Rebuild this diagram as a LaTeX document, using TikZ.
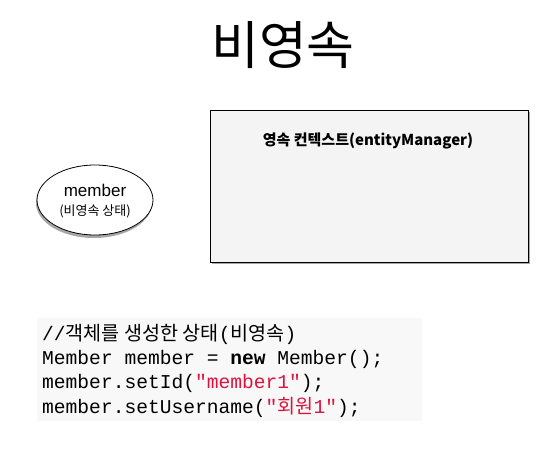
\documentclass[tikz,border=0pt]{standalone}
\usepackage{fontspec}
\setmainfont{Liberation Sans}
\setmonofont{Liberation Mono}
\newfontfamily\cjk{Noto Sans CJK KR}
\usetikzlibrary{shadows,shapes.geometric}
\definecolor{strred}{RGB}{220,20,60}
\definecolor{boxfill}{RGB}{244,244,244}
\definecolor{codebg}{RGB}{248,248,248}
\tikzset{
  codeline/.style={anchor=base west, inner sep=0pt, font=\ttfamily\fontsize{19.6}{19.6}\selectfont},
}
\begin{document}
\begin{tikzpicture}[x=1pt,y=-1pt]
\useasboundingbox (0,0) rectangle (552,466);
% title
\node[inner sep=0pt, font=\cjk\fontsize{52}{52}\selectfont] (title) at (283,45) {비영속};
% member ellipse
\node[draw=black, thick, fill=white, ellipse, minimum width=116pt, minimum height=70pt,
      drop shadow={shadow xshift=-1pt, shadow yshift=-3pt, opacity=0.7}] (member) at (95,200) {};
\node[inner sep=0pt, font=\fontsize{17}{17}\selectfont] (mname) at (95,190) {member};
\node[inner sep=0pt, font=\cjk\fontsize{13}{13}\selectfont] (mstate) at (95,211) {(비영속 상태)};
% persistence context box
\node[draw=black, thick, fill=boxfill, rectangle, minimum width=318pt, minimum height=152pt,
      drop shadow={shadow xshift=2pt, shadow yshift=-2pt, opacity=0.7}] (ctx) at (369,186) {};
\node[inner sep=0pt, font=\cjk\bfseries\fontsize{15}{15}\selectfont] (ctxlabel) at (368,141) {영속 컨텍스트(entityManager)};
% code block
\fill[codebg] (37,318) rectangle (422,421);
\node[codeline] (c1) at (42,340) {//{\cjk 객체를 생성한 상태}({\cjk 비영속})};
\node[codeline] (c2) at (42,364) {Member member = \textbf{new} Member();};
\node[codeline] (c3) at (42,388) {member.setId(\textcolor{strred}{"member1"});};
\node[codeline] (c4) at (42,413) {member.setUsername(\textcolor{strred}{"{\cjk 회원}1"});};
\end{tikzpicture}
\end{document}
